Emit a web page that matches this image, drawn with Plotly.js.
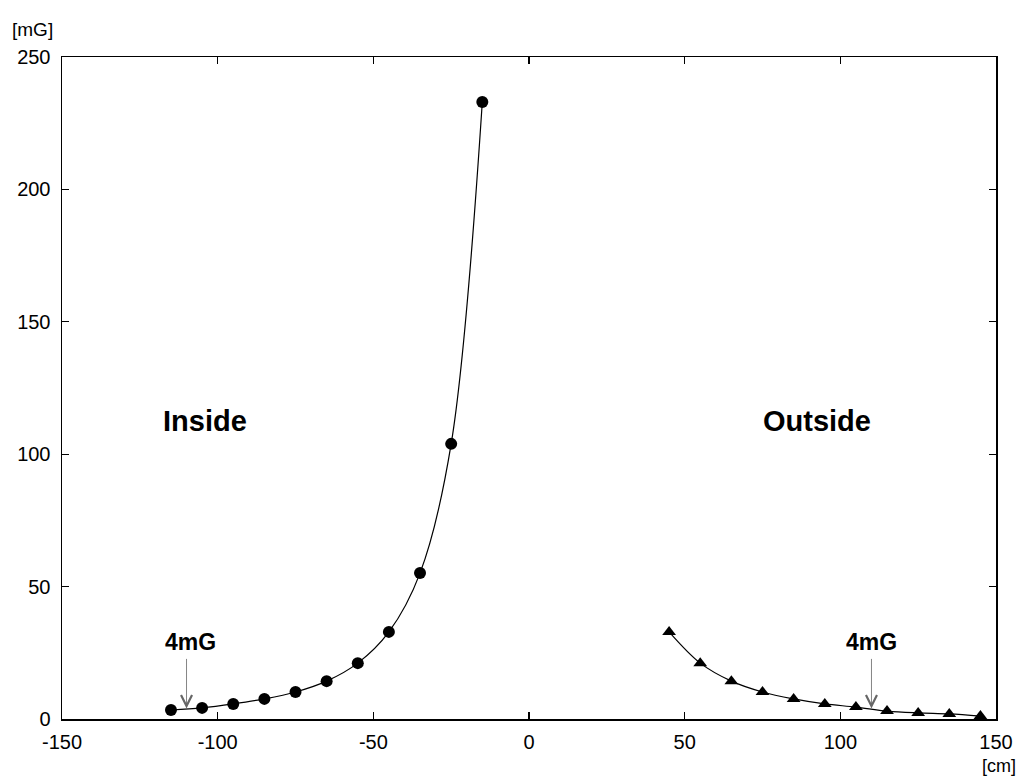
<!DOCTYPE html>
<html>
<head>
<meta charset="utf-8">
<script src="https://cdn.plot.ly/plotly-3.0.1.min.js"></script>
<style>html,body{margin:0;padding:0;background:#fff;}#chart{width:1020px;height:778px;}</style>
</head>
<body>
<div id="chart"></div>
<script>
// Inside measurements (circles)
const insideX = [-115, -105, -95, -85, -75, -65, -55, -45, -35, -25, -15];
const insideY = [3.4, 4.2, 5.7, 7.6, 10.2, 14.3, 21.1, 32.9, 55.1, 103.9, 233];
// Outside measurements (triangles)
const outsideX = [45, 55, 65, 75, 85, 95, 105, 115, 125, 135, 145];
const outsideY = [32.9, 21.1, 14.3, 10.2, 7.6, 5.7, 4.5, 3.0, 2.3, 1.9, 1.1];
// Tick values
const xTicks = [-150, -100, -50, 0, 50, 100, 150];
const yTicks = [0, 50, 100, 150, 200, 250];
// 4mG marker positions
const markX = [-110, 110];
const markY = [4, 4];
// Region labels
const regionLabels = ['Inside', 'Outside'];
const regionX = [-104, 92.5];
const regionY = [112.5, 112.5];

const FONT = 'Liberation Sans, Arial, Helvetica, sans-serif';

const traces = [
  {x: insideX, y: insideY, type: 'scatter', mode: 'lines+markers',
   line: {color: '#000', width: 1.2, shape: 'spline', smoothing: 1},
   marker: {symbol: 'circle', size: 12, color: '#000'}, showlegend: false, hoverinfo: 'skip'},
  {x: outsideX, y: outsideY, type: 'scatter', mode: 'lines+markers',
   line: {color: '#000', width: 1.2, shape: 'spline', smoothing: 1},
   marker: {symbol: 'triangle-up', size: 12, color: '#000'}, showlegend: false, hoverinfo: 'skip'}
];

const annotations = [
  {x: 0, y: 1.042, xref: 'paper', yref: 'paper', xanchor: 'center', yanchor: 'middle', xshift: -30,
   text: '[mG]', showarrow: false, font: {family: FONT, size: 19, color: '#000'}},
  {x: 1, y: -0.071, xref: 'paper', yref: 'paper', xanchor: 'center', yanchor: 'middle', xshift: 3,
   text: '[cm]', showarrow: false, font: {family: FONT, size: 18, color: '#000'}}
];
regionLabels.forEach(function (t, i) {
  annotations.push({x: regionX[i], y: regionY[i], xref: 'x', yref: 'y', text: '<b>' + t + '</b>',
    showarrow: false, xanchor: 'center', yanchor: 'middle', font: {family: FONT, size: 29, color: '#000'}});
});
markX.forEach(function (mx, i) {
  annotations.push({x: mx, y: markY[i], xref: 'x', yref: 'y', text: '', showarrow: true,
    ax: 0, ay: -51, arrowhead: 5, arrowsize: 2.7, arrowwidth: 0.8, arrowcolor: '#666'});
  annotations.push({x: mx, y: markY[i], xref: 'x', yref: 'y', text: '<b>4mG</b>', showarrow: false,
    xanchor: 'center', yanchor: 'middle',
    yshift: 66, xshift: i === 0 ? 4 : 0, font: {family: FONT, size: 23, color: '#000'}});
});

const layout = {
  width: 1020, height: 778,
  margin: {l: 62, r: 24, t: 57, b: 59},
  paper_bgcolor: '#fff', plot_bgcolor: '#fff',
  font: {family: FONT, size: 20, color: '#000'},
  showlegend: false,
  xaxis: {range: [-150, 150], tickvals: xTicks, ticktext: xTicks.map(String),
    showgrid: false, zeroline: false, showline: true, linecolor: '#000', linewidth: 1.5,
    mirror: 'ticks', ticks: 'inside', ticklen: 7, tickwidth: 1.2, tickcolor: '#000',
    ticklabelstandoff: 4, tickfont: {family: FONT, size: 20, color: '#000'}},
  yaxis: {range: [0, 250], tickvals: yTicks, ticktext: yTicks.map(String),
    showgrid: false, zeroline: false, showline: true, linecolor: '#000', linewidth: 1.5,
    mirror: 'ticks', ticks: 'inside', ticklen: 7, tickwidth: 1.2, tickcolor: '#000',
    ticklabelstandoff: 6, tickfont: {family: FONT, size: 20, color: '#000'}},
  annotations: annotations
};

Plotly.newPlot('chart', traces, layout, {staticPlot: true, displayModeBar: false});
</script>
</body>
</html>
